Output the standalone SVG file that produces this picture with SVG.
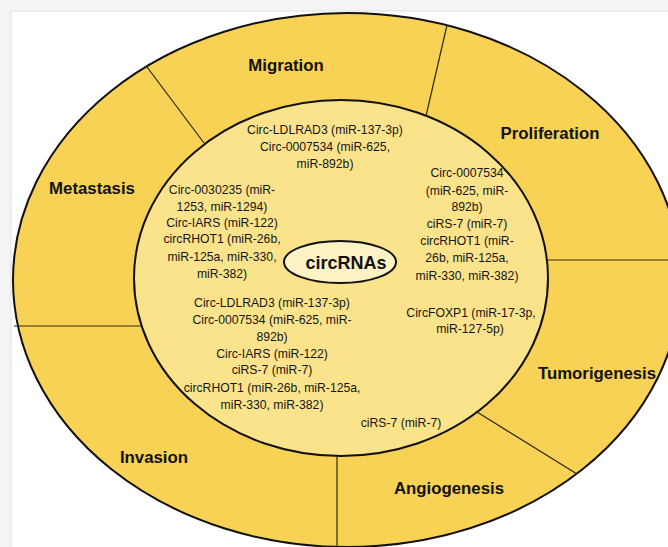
<svg xmlns="http://www.w3.org/2000/svg" width="668" height="547" viewBox="0 0 668 547">
<style>
.lbl{font-family:"Liberation Sans",Arial,sans-serif;font-weight:bold;font-size:16.8px;fill:#111;text-anchor:middle}
.t{font-family:"Liberation Sans",Arial,sans-serif;font-size:12.2px;fill:#151515;text-anchor:middle}
.div{stroke:#2e2a12;stroke-width:1.2;fill:none}
</style>
<rect x="0" y="0" width="668" height="547" fill="#f4f4f4"/>
<rect x="11" y="11" width="670" height="550" fill="#ffffff" stroke="#e2e2e2" stroke-width="1"/>
<g id="outer-ring">
<ellipse cx="347" cy="280" rx="334" ry="267" fill="#f8d254" stroke="#111" stroke-width="2"/>
</g>
<g id="inner-circle">
<ellipse cx="341" cy="278" rx="207" ry="178" fill="#fbe38c" stroke="#111" stroke-width="2"/>
</g>
<g id="connectors">
<line class="div" x1="147" y1="67" x2="204" y2="143"/>
<line class="div" x1="447" y1="25" x2="426" y2="116"/>
<line class="div" x1="547" y1="260" x2="668" y2="260"/>
<line class="div" x1="477" y1="412" x2="577" y2="474"/>
<line class="div" x1="337" y1="456" x2="337" y2="547"/>
<line class="div" x1="14" y1="326" x2="142" y2="326"/>
</g>
<g id="migration"><text class="lbl" x="286" y="71">Migration</text></g>
<g id="proliferation"><text class="lbl" x="550" y="139">Proliferation</text></g>
<g id="metastasis"><text class="lbl" x="92" y="194">Metastasis</text></g>
<g id="tumorigenesis"><text class="lbl" x="597" y="379">Tumorigenesis</text></g>
<g id="invasion"><text class="lbl" x="154" y="463">Invasion</text></g>
<g id="angiogenesis"><text class="lbl" x="449" y="494">Angiogenesis</text></g>
<g id="migration-circs">
<text class="t" x="325" y="134">Circ-LDLRAD3 (miR-137-3p)</text>
<text class="t" x="325" y="151">Circ-0007534 (miR-625,</text>
<text class="t" x="325" y="168">miR-892b)</text>
</g>
<g id="metastasis-circs">
<text class="t" x="222" y="194">Circ-0030235 (miR-</text>
<text class="t" x="222" y="211">1253, miR-1294)</text>
<text class="t" x="222" y="227">Circ-IARS (miR-122)</text>
<text class="t" x="222" y="243">circRHOT1 (miR-26b,</text>
<text class="t" x="222" y="261">miR-125a, miR-330,</text>
<text class="t" x="222" y="278">miR-382)</text>
</g>
<g id="proliferation-circs">
<text class="t" x="467" y="177">Circ-0007534</text>
<text class="t" x="467" y="195">(miR-625, miR-</text>
<text class="t" x="467" y="211">892b)</text>
<text class="t" x="467" y="228">ciRS-7 (miR-7)</text>
<text class="t" x="467" y="245">circRHOT1 (miR-</text>
<text class="t" x="467" y="262">26b, miR-125a,</text>
<text class="t" x="467" y="280">miR-330, miR-382)</text>
</g>
<g id="tumorigenesis-circs">
<text class="t" x="471" y="317">CircFOXP1 (miR-17-3p,</text>
<text class="t" x="470" y="333">miR-127-5p)</text>
</g>
<g id="invasion-circs">
<text class="t" x="272" y="307">Circ-LDLRAD3 (miR-137-3p)</text>
<text class="t" x="272" y="324">Circ-0007534 (miR-625, miR-</text>
<text class="t" x="272" y="341">892b)</text>
<text class="t" x="272" y="358">Circ-IARS (miR-122)</text>
<text class="t" x="272" y="374">ciRS-7 (miR-7)</text>
<text class="t" x="272" y="392">circRHOT1 (miR-26b, miR-125a,</text>
<text class="t" x="272" y="409">miR-330, miR-382)</text>
</g>
<g id="angiogenesis-circs">
<text class="t" x="401" y="427">ciRS-7 (miR-7)</text>
</g>
<g id="circRNAs">
<ellipse cx="340" cy="262" rx="56" ry="21" fill="#fdf2c6" stroke="#111" stroke-width="2"/>
<text x="346" y="269" font-family="Liberation Sans, Arial, sans-serif" font-weight="bold" font-size="18px" fill="#111" text-anchor="middle">circRNAs</text>
</g>
</svg>
